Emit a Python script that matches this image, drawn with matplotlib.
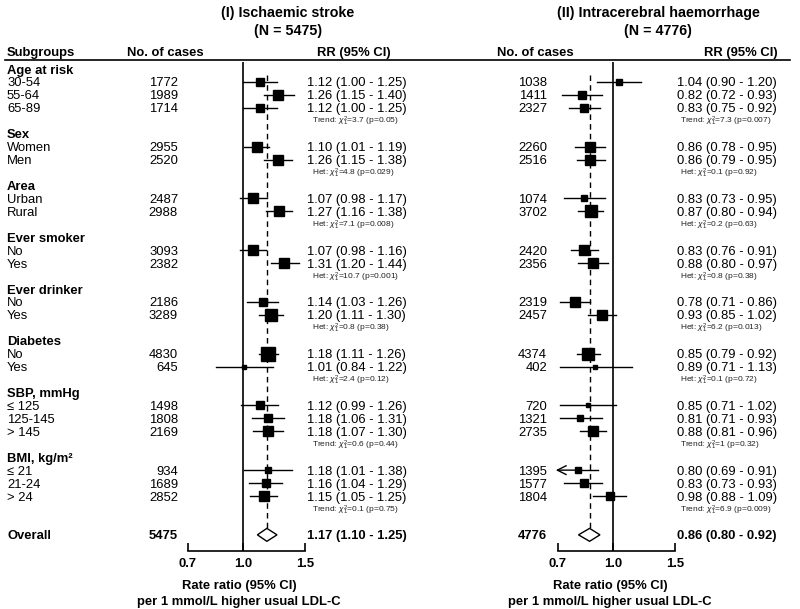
import numpy as np
import matplotlib
matplotlib.use("Agg")
import matplotlib.pyplot as plt
from matplotlib.ticker import NullLocator, FixedLocator, FixedFormatter

plt.rcParams['font.family'] = ['Liberation Sans', 'DejaVu Sans']
plt.rcParams['mathtext.fontset'] = 'custom'
plt.rcParams['mathtext.rm'] = 'Liberation Sans'
plt.rcParams['mathtext.it'] = 'Liberation Sans:italic'

# ---- data ----
groups = ["Age at risk", "Sex", "Area", "Ever smoker", "Ever drinker",
          "Diabetes", "SBP, mmHg", "BMI, kg/m²"]
subgroups = [["30-54", "55-64", "65-89"], ["Women", "Men"], ["Urban", "Rural"],
             ["No", "Yes"], ["No", "Yes"], ["No", "Yes"],
             ["≤ 125", "125-145", "> 145"], ["≤ 21", "21-24", "> 24"]]
test_kind = ["Trend", "Het", "Het", "Het", "Het", "Het", "Trend", "Trend"]

# (I) Ischaemic stroke
is_cases = [1772, 1989, 1714, 2955, 2520, 2487, 2988, 3093, 2382, 2186, 3289,
            4830, 645, 1498, 1808, 2169, 934, 1689, 2852]
is_rr = [1.12, 1.26, 1.12, 1.10, 1.26, 1.07, 1.27, 1.07, 1.31, 1.14, 1.20,
         1.18, 1.01, 1.12, 1.18, 1.18, 1.18, 1.16, 1.15]
is_lo = [1.00, 1.15, 1.00, 1.01, 1.15, 0.98, 1.16, 0.98, 1.20, 1.03, 1.11,
         1.11, 0.84, 0.99, 1.06, 1.07, 1.01, 1.04, 1.05]
is_hi = [1.25, 1.40, 1.25, 1.19, 1.38, 1.17, 1.38, 1.16, 1.44, 1.26, 1.30,
         1.26, 1.22, 1.26, 1.31, 1.30, 1.38, 1.29, 1.25]
is_chi2 = ["3.7", "4.8", "7.1", "10.7", "0.8", "2.4", "0.6", "0.1"]
is_p = ["0.05", "0.029", "0.008", "0.001", "0.38", "0.12", "0.44", "0.75"]
is_overall = (5475, 1.17, 1.10, 1.25)

# (II) Intracerebral haemorrhage
ich_cases = [1038, 1411, 2327, 2260, 2516, 1074, 3702, 2420, 2356, 2319, 2457,
             4374, 402, 720, 1321, 2735, 1395, 1577, 1804]
ich_rr = [1.04, 0.82, 0.83, 0.86, 0.86, 0.83, 0.87, 0.83, 0.88, 0.78, 0.93,
          0.85, 0.89, 0.85, 0.81, 0.88, 0.80, 0.83, 0.98]
ich_lo = [0.90, 0.72, 0.75, 0.78, 0.79, 0.73, 0.80, 0.76, 0.80, 0.71, 0.85,
          0.79, 0.71, 0.71, 0.71, 0.81, 0.69, 0.73, 0.88]
ich_hi = [1.20, 0.93, 0.92, 0.95, 0.95, 0.95, 0.94, 0.91, 0.97, 0.86, 1.02,
          0.92, 1.13, 1.02, 0.93, 0.96, 0.91, 0.93, 1.09]
ich_chi2 = ["7.3", "0.1", "0.2", "0.8", "6.2", "0.1", "1", "6.9"]
ich_p = ["0.007", "0.92", "0.63", "0.38", "0.013", "0.72", "0.32", "0.009"]
ich_overall = (4776, 0.86, 0.80, 0.92)

# ---- layout (pixels) ----
W, H = 800, 609
ROW0, ROWH = 69, 12.94
DY = 0.12  # nudge text down so it sits centred on the rows
def r(px):
    return (px - ROW0) / ROWH

# row indices
head_rows, sub_rows, test_rows = [], [], []
i = 0
for g, subs in zip(groups, subgroups):
    head_rows.append(i)
    sub_rows += list(range(i + 1, i + 1 + len(subs)))
    test_rows.append(i + 1 + len(subs))
    i += len(subs) + 2
overall_row = i + 1

fig = plt.figure(figsize=(W / 100, H / 100), dpi=100)
bg = fig.add_axes([0, 0, 1, 1])
bg.set_xlim(0, W)
bg.set_ylim(r(H), r(0))
bg.axis('off')

FS = 9.4
TFS = 10.3
# titles
bg.text(288, r(13), "(I) Ischaemic stroke", ha='center', va='center', fontsize=TFS, fontweight='bold')
bg.text(288, r(31), "(N = 5475)", ha='center', va='center', fontsize=TFS, fontweight='bold')
bg.text(658, r(13), "(II) Intracerebral haemorrhage", ha='center', va='center', fontsize=TFS, fontweight='bold')
bg.text(658, r(31), "(N = 4776)", ha='center', va='center', fontsize=TFS, fontweight='bold')

# header
bg.text(7, r(53), "Subgroups", ha='left', va='center', fontsize=FS, fontweight='bold')
bg.text(165, r(53), "No. of cases", ha='center', va='center', fontsize=FS, fontweight='bold')
bg.text(391, r(53), "RR (95% CI)", ha='right', va='center', fontsize=FS, fontweight='bold')
bg.text(535, r(53), "No. of cases", ha='center', va='center', fontsize=FS, fontweight='bold')
bg.text(778, r(53), "RR (95% CI)", ha='right', va='center', fontsize=FS, fontweight='bold')
bg.plot([5, 790], [r(60), r(60)], color='black', lw=1.2)

# subgroup labels
for g, hr in zip(groups, head_rows):
    bg.text(7, hr + DY, g, ha='left', va='center', fontsize=FS, fontweight='bold')
labels = [s for subs in subgroups for s in subs]
for lab, sr in zip(labels, sub_rows):
    bg.text(7, sr + DY, lab, ha='left', va='center', fontsize=FS)
bg.text(7, overall_row + DY, "Overall", ha='left', va='center', fontsize=FS, fontweight='bold')


def panel(ax_left, num_x, rr_x, test_x, cases, rr, lo, hi, chi2, pv, overall):
    ax = fig.add_axes([ax_left / W, (H - 551) / H, 117 / W, (551 - 62) / H])
    ax.set_xscale('log')
    ax.set_xlim(0.7, 1.5)
    ax.set_ylim(r(551), r(62))
    ax.patch.set_alpha(0)
    for s in ['left', 'right', 'top']:
        ax.spines[s].set_visible(False)
    ax.spines['bottom'].set_linewidth(1.2)
    ax.yaxis.set_visible(False)
    ax.xaxis.set_major_locator(FixedLocator([0.7, 1.0, 1.5]))
    ax.xaxis.set_major_formatter(FixedFormatter(["0.7", "1.0", "1.5"]))
    ax.xaxis.set_minor_locator(NullLocator())
    ax.tick_params(axis='x', direction='in', length=6, width=1.2, pad=5, labelsize=FS)
    for t in ax.get_xticklabels():
        t.set_fontweight('bold')

    ax.axvline(1.0, color='black', lw=1.2)
    ax.vlines(overall[1], 0.45, overall_row - 0.5, colors='black', lw=1, linestyles=(0, (4, 3)))

    for y, c, e, l, h in zip(sub_rows, cases, rr, lo, hi):
        side_px = 1.8 / np.log(h / l)
        if l < 0.7:
            ax.annotate('', xy=(l, y), xytext=(e, y), annotation_clip=False,
                        arrowprops=dict(arrowstyle='->', lw=1, color='black',
                                        shrinkA=0, shrinkB=0, mutation_scale=16))
            ax.plot([e, h], [y, y], color='black', lw=1, clip_on=False)
        else:
            ax.plot([l, h], [y, y], color='black', lw=1, clip_on=False)
        ax.plot(e, y, 's', ms=side_px * 0.72, color='black', clip_on=False)
        bg.text(num_x, y + DY, str(c), ha='right', va='center', fontsize=FS)
        bg.text(rr_x, y + DY, f"{e:.2f} ({l:.2f} - {h:.2f})", ha='left', va='center', fontsize=FS)

    for y, k, c2, p in zip(test_rows, test_kind, chi2, pv):
        bg.text(test_x, y + 0.08, f"{k}: $\\chi^2_1$={c2} (p={p})", ha='left', va='center',
                fontsize=6, color='#222222')

    n, e, l, h = overall
    ax.fill([l, e, h, e], [overall_row, overall_row - 0.5, overall_row, overall_row + 0.5],
            facecolor='white', edgecolor='black', lw=1, clip_on=False)
    bg.text(num_x, overall_row + DY, str(n), ha='right', va='center', fontsize=FS, fontweight='bold')
    bg.text(rr_x, overall_row + DY, f"{e:.2f} ({l:.2f} - {h:.2f})", ha='left', va='center',
            fontsize=FS, fontweight='bold')
    return ax


panel(188, 178, 307, 312, is_cases, is_rr, is_lo, is_hi, is_chi2, is_p, is_overall)
panel(558, 547, 677, 680, ich_cases, ich_rr, ich_lo, ich_hi, ich_chi2, ich_p, ich_overall)

for cx in (239, 610):
    bg.text(cx, r(586), "Rate ratio (95% CI)", ha='center', va='center', fontsize=FS, fontweight='bold')
    bg.text(cx, r(602), "per 1 mmol/L higher usual LDL-C", ha='center', va='center',
            fontsize=FS, fontweight='bold')

fig.savefig("out.png", dpi=100)
